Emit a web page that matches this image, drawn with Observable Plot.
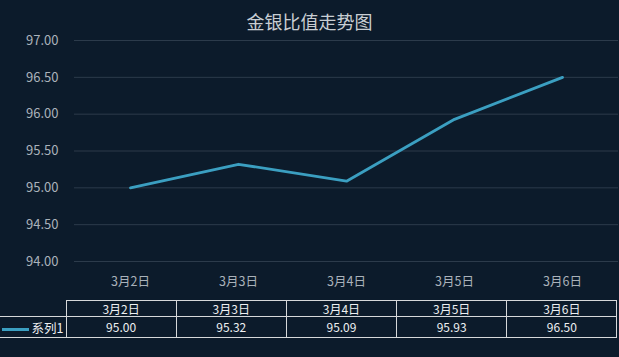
<!DOCTYPE html>
<html>
<head>
<meta charset="utf-8">
<script src="https://cdn.jsdelivr.net/npm/d3@7"></script>
<script src="https://cdn.jsdelivr.net/npm/@observablehq/plot@0.6"></script>
<style>
  html, body { margin: 0; padding: 0; background: #0c1b2b; }
  #chart { position: relative; width: 619px; height: 357px; background: #0c1b2b; overflow: hidden;
           font-family: "Noto Sans CJK SC", "Noto Sans", sans-serif; }
  #title { position: absolute; left: 0; width: 619px; top: 11px; text-align: center;
           font-size: 18px; line-height: 20px; color: #c9ced3; }
  #plot { position: absolute; left: 0; top: 0; }
  #tbl { position: absolute; left: 0; top: 300px; border-collapse: collapse; table-layout: fixed;
         font-size: 12px; color: #eef0f2; }
  #tbl td { padding: 0; text-align: center; border: 1px solid #d6d8da; white-space: nowrap; }
  #tbl td.corner { border: none; border-right: 1px solid #d6d8da; border-bottom: 1px solid #d6d8da; }
  #tbl td.legend { border-left: none; text-align: right; padding-right: 2px; font-size: 12.5px; }
  .sw { display: inline-block; width: 27px; height: 3px; background: #3b9fc1; vertical-align: middle; margin-right: 3px; }
</style>
</head>
<body>
<div id="chart">
  <div id="plot"></div>
  <div id="title"></div>
  <table id="tbl"></table>
</div>
<script>
const title = "金银比值走势图";
const dates = ["3月2日", "3月3日", "3月4日", "3月5日", "3月6日"];
const values = [95.00, 95.32, 95.09, 95.93, 96.50];
const seriesName = "系列1";
const yTicks = [94.0, 94.5, 95.0, 95.5, 96.0, 96.5, 97.0];

const data = dates.map((d, i) => ({date: d, value: values[i]}));

document.getElementById("title").textContent = title;

const plot = Plot.plot({
  width: 619,
  height: 300,
  marginLeft: 74,
  marginRight: 1,
  marginTop: 40,
  marginBottom: 39,
  style: {fontFamily: '"Noto Sans CJK SC", "Noto Sans", sans-serif', fontSize: "13px", color: "#aab2ba", background: "transparent", overflow: "visible"},
  x: {type: "point", domain: dates, padding: 0.5},
  y: {domain: [94, 97]},
  marks: [
    Plot.gridY(yTicks, {stroke: "#2c3b4b", strokeOpacity: 1}),
    Plot.axisY(yTicks, {tickSize: 0, tickPadding: 16, tickFormat: d3.format(".2f"), label: null}),
    Plot.axisX({tickSize: 0, tickPadding: 16, label: null, fontSize: 12.5}),
    Plot.line(data, {x: "date", y: "value", stroke: "#3b9fc1", strokeWidth: 2.8, strokeLinejoin: "round", strokeLinecap: "round"})
  ]
});
document.getElementById("plot").appendChild(plot);

// data table beneath the chart
const tbl = document.getElementById("tbl");
const colg = document.createElement("colgroup");
const c0 = document.createElement("col"); c0.style.width = "66px"; colg.appendChild(c0);
dates.forEach(() => { const c = document.createElement("col"); c.style.width = "110.2px"; colg.appendChild(c); });
tbl.appendChild(colg);
tbl.style.width = "617px";
const r1 = document.createElement("tr"); r1.style.height = "16px";
const corner = document.createElement("td"); corner.className = "corner"; r1.appendChild(corner);
dates.forEach(d => { const td = document.createElement("td"); td.textContent = d; td.style.lineHeight = "15px"; r1.appendChild(td); });
tbl.appendChild(r1);
const r2 = document.createElement("tr"); r2.style.height = "21px";
const lg = document.createElement("td"); lg.className = "legend";
lg.innerHTML = '<span class="sw"></span>' + seriesName;
r2.appendChild(lg);
values.forEach(v => { const td = document.createElement("td"); td.textContent = d3.format(".2f")(v); td.style.lineHeight = "20px"; r2.appendChild(td); });
tbl.appendChild(r2);
</script>
</body>
</html>
